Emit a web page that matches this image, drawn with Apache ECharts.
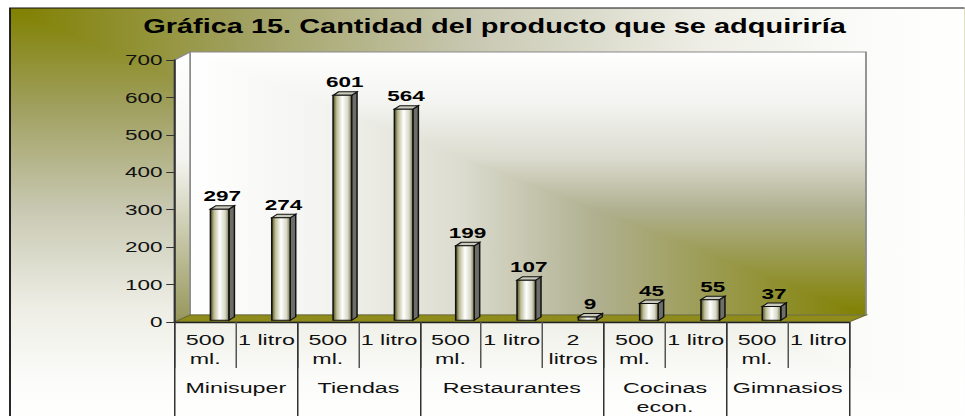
<!DOCTYPE html>
<html><head><meta charset="utf-8">
<style>html,body{margin:0;padding:0;background:#fff;overflow:hidden}
#c{position:absolute;left:0;top:0;width:643.33px;height:416px;transform:scaleX(1.5);transform-origin:0 0}</style>
<script src="https://cdn.jsdelivr.net/npm/echarts@6/dist/echarts.min.js"></script>
</head><body><div id="c"></div>
<script>
const categories=['500\nml.','1 litro','500\nml.','1 litro','500\nml.','1 litro','2\nlitros','500\nml.','1 litro','500\nml.','1 litro'];
const values=[297,274,601,564,199,107,9,45,55,37,null];
const groups=['Minisuper','Tiendas','Restaurantes','Cocinas\necon.','Gimnasios'];
const groupSizes=[2,2,3,2,2];
const yTicks=[0,100,200,300,400,500,600,700];
const titleText='Gráfica 15. Cantidad del producto que se adquiriría';

const S=1.5, X=p=>p/S;
const groupEnds=[];groupSizes.reduce((a,n)=>{groupEnds.push(a+n);return a+n;},0);
const olive='#808000';
const font='"Liberation Sans",Arial,sans-serif';
const lin=(x,y,x2,y2,stops)=>({type:'linear',x,y,x2,y2,colorStops:stops});
const bgStops=[{offset:0,color:olive},{offset:.24,color:'#a0a060'},{offset:.48,color:'#c8c8b2'},{offset:.72,color:'#eeeee6'},{offset:.9,color:'#fcfcfa'},{offset:1,color:'#ffffff'}];
const wallStops=[{offset:0,color:olive},{offset:.4,color:'#b0b090'},{offset:.6,color:'#dcdcd0'},{offset:.8,color:'#f3f3f0'},{offset:1,color:'#ffffff'}];
const fx=X(10),fy=8,fr=X(975),fb=426;
const wl=X(190),wr=X(866),wt=52,wb=315,al=X(174.5),ar=X(849),a0=322,a7=60;
const poly=(pts,fill,stroke)=>({type:'polygon',silent:true,shape:{points:pts},style:{fill,stroke:stroke||null,lineWidth:stroke?1:0}});
const chart=echarts.init(document.getElementById('c'),null,{renderer:'svg'});
chart.setOption({
 animation:false,
 textStyle:{fontFamily:font},
 title:{text:titleText,left:X(487),top:12,textAlign:'center',textStyle:{fontSize:19.3,fontWeight:'bold',color:'#000'}},
 graphic:{elements:[
  {type:'rect',silent:true,shape:{x:fx,y:fy,width:fr-fx,height:fb-fy},style:{fill:lin(0,0,0,1,bgStops)}},
  poly([[fx,fy],[fr,fy],[fr,fb]],lin(0,0,1,0,bgStops)),
  {type:'rect',silent:true,shape:{x:fx,y:fy,width:fr-fx,height:fb-fy},style:{fill:'none',stroke:'#111',lineWidth:1.2}},
  {type:'rect',silent:true,shape:{x:wl,y:wt,width:wr-wl,height:wb-wt},style:{fill:lin(1,0,0,0,wallStops)}},
  poly([[wr,wb],[wr,wt],[wl,wt]],lin(0,1,0,0,wallStops)),
  {type:'rect',silent:true,shape:{x:wl,y:wt,width:wr-wl,height:wb-wt},style:{fill:'none',stroke:'#8a8a8a',lineWidth:1.2}},
  poly([[al,a7],[wl,wt],[wl,wb],[al,a0]],lin(0,0,0,1,[{offset:0,color:'#ffffff'},{offset:.4,color:'#f4f4f0'},{offset:1,color:'#96965a'}]),'#8a8a8a'),
  poly([[al,a0],[wl,wb],[wr,wb],[ar,a0]],'#8f8c1c','#6f6f30')
 ]},
 grid:{left:al,width:ar-al,top:a7,height:a0-a7,containLabel:false},
 xAxis:[{type:'category',data:categories,position:'bottom',
   axisLine:{lineStyle:{color:'#222',width:1.4}},
   axisTick:{show:true,length:46,lineStyle:{color:'#555',width:1},alignWithLabel:false},
   axisLabel:{interval:0,fontSize:15.5,color:'#111',lineHeight:19,margin:8,hideOverlap:false}},
  {type:'category',data:categories,position:'bottom',
   axisLine:{show:false},
   axisTick:{show:true,length:100,lineStyle:{color:'#333',width:1},
     interval:i=>i===0||groupEnds.includes(i)},
   axisLabel:{show:false}}],
 yAxis:{type:'value',min:0,max:700,interval:100,
   axisLine:{show:true,lineStyle:{color:'#333',width:1.4}},
   axisTick:{show:true,length:5.5,lineStyle:{color:'#333'}},
   splitLine:{show:false},
   axisLabel:{fontSize:15,color:'#111',margin:8,formatter:v=>yTicks.includes(v)?String(v):''}},
 series:[
 {type:'custom',coordinateSystem:'cartesian2d',clip:false,z:5,data:values.map((v,i)=>[i,v]),
  renderItem(p,api){
   const v=api.value(1);
   if(v==null||isNaN(v))return null;
   const c=api.coord([api.value(0),v]),b=api.coord([api.value(0),0]);
   const dx=X(14.5),w=X(18.5),dw=X(5.5),dy=3.5,up=1.7;
   const l=c[0]+dx-w/2,r=l+w,t=c[1]-up,bot=b[1]-up;
   const st={stroke:'#111',lineWidth:1};
   return {type:'group',children:[
    {type:'polygon',shape:{points:[[r,t],[r+dw,t-dy],[r+dw,bot-dy],[r,bot]]},style:{fill:'#6e6e68',...st}},
    {type:'polygon',shape:{points:[[l,t],[l+dw,t-dy],[r+dw,t-dy],[r,t]]},style:{fill:'#c9c9bb',...st}},
    {type:'rect',shape:{x:l,y:t,width:w,height:bot-t},style:{fill:lin(0,0,1,0,[{offset:0,color:'#4e4e14'},{offset:.2,color:'#bcbc98'},{offset:.5,color:'#ffffff'},{offset:.8,color:'#d8d8c8'},{offset:1,color:'#77774a'}]),...st}},
    {type:'text',x:l+w/2+X(2.5),y:t-(dy+2),style:{text:String(v),fontSize:15,fontWeight:'bold',fill:'#000',align:'center',verticalAlign:'bottom',fontFamily:font}}
   ]};
  }},
 {type:'custom',coordinateSystem:'cartesian2d',clip:false,z:5,silent:true,data:groups.map((g,i)=>[i,0]),
  renderItem(p,api){
   const i=api.value(0),start=i===0?0:groupEnds[i-1],end=groupEnds[i];
   const c=api.coord([start,0]),band=api.size([1,0])[0];
   return {type:'text',x:c[0]+band*(end-start-1)/2,y:378,style:{text:groups[i],fontSize:15.5,lineHeight:19,fill:'#111',align:'center',verticalAlign:'top',fontFamily:font}};
  }}
 ]
});
</script></body></html>
